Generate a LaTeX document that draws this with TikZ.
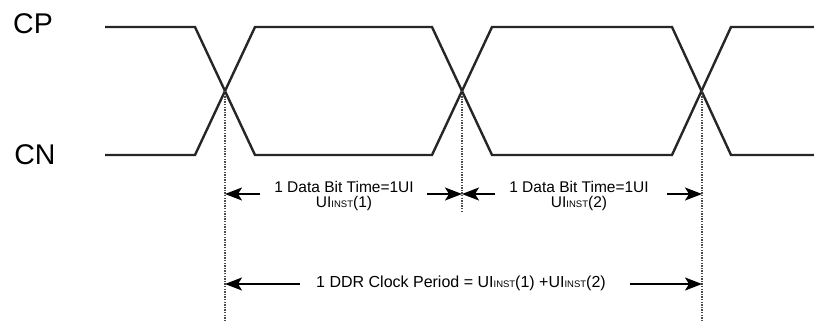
\documentclass[tikz,border=0pt]{standalone}
\usepackage{fontspec}
\setmainfont{Liberation Sans}
\usetikzlibrary{arrows.meta}
\newcommand{\uinst}{UI{\fontsize{9.5}{9.5}\selectfont INST}}
\begin{document}
\begin{tikzpicture}[x=1pt,y=-1pt,
  wave/.style={line width=2.4pt,line join=miter,black!85},
  guide/.style={line width=1.6pt,gray!60!black,dash pattern=on 1.4pt off 1.2pt},
  dimarrow/.style={line width=1.6pt,-{Stealth[length=17pt,width=13pt,inset=4pt]}},
  siglabel/.style={font=\fontsize{28.5}{28.5}\selectfont,inner sep=0pt},
  bitlabel/.style={font=\fontsize{15.5}{15.5}\selectfont,align=center,inner sep=0pt},
  perlabel/.style={font=\fontsize{16}{16}\selectfont,inner sep=0pt}]
\useasboundingbox (0,0) rectangle (814,322);

% signal names
\node[siglabel] (cp) at (33,24) {CP};
\node[siglabel] (cn) at (35,155) {CN};

% differential clock pair
\draw[wave] (105,27) -- (195,27) -- (255,155) -- (432,155) -- (492,27) -- (672,27) -- (731,155) -- (814,155);
\draw[wave] (105,155) -- (195,155) -- (255,27) -- (432,27) -- (492,155) -- (672,155) -- (731,27) -- (814,27);

% crossing points
\coordinate (x1) at (225,91);
\coordinate (x2) at (462,91);
\coordinate (x3) at (702,91);
\coordinate (g1) at (225,322);
\coordinate (g2) at (462,212);
\coordinate (g3) at (702,322);

\draw[guide] (x1) -- (g1);
\draw[guide] (x2) -- (g2);
\draw[guide] (x3) -- (g3);

% unit interval labels
\node[bitlabel] (ui1) at (344,196) {1 Data Bit Time=1UI\\\uinst(1)};
\node[bitlabel] (ui2) at (579,196) {1 Data Bit Time=1UI\\\uinst(2)};
\node[perlabel] (per) at (461,283) {1 DDR Clock Period = \uinst(1) +\uinst(2)};

\coordinate (a1) at (260,194);
\coordinate (a2) at (427,194);
\coordinate (a3) at (495,194);
\coordinate (a4) at (667,194);
\coordinate (b1) at (300,284);
\coordinate (b2) at (630,284);

\draw[dimarrow] (a1) -- (x1 |- a1);
\draw[dimarrow] (a2) -- (x2 |- a2);
\draw[dimarrow] (a3) -- (x2 |- a3);
\draw[dimarrow] (a4) -- (x3 |- a4);
\draw[dimarrow] (b1) -- (x1 |- b1);
\draw[dimarrow] (b2) -- (x3 |- b2);
\end{tikzpicture}
\end{document}
